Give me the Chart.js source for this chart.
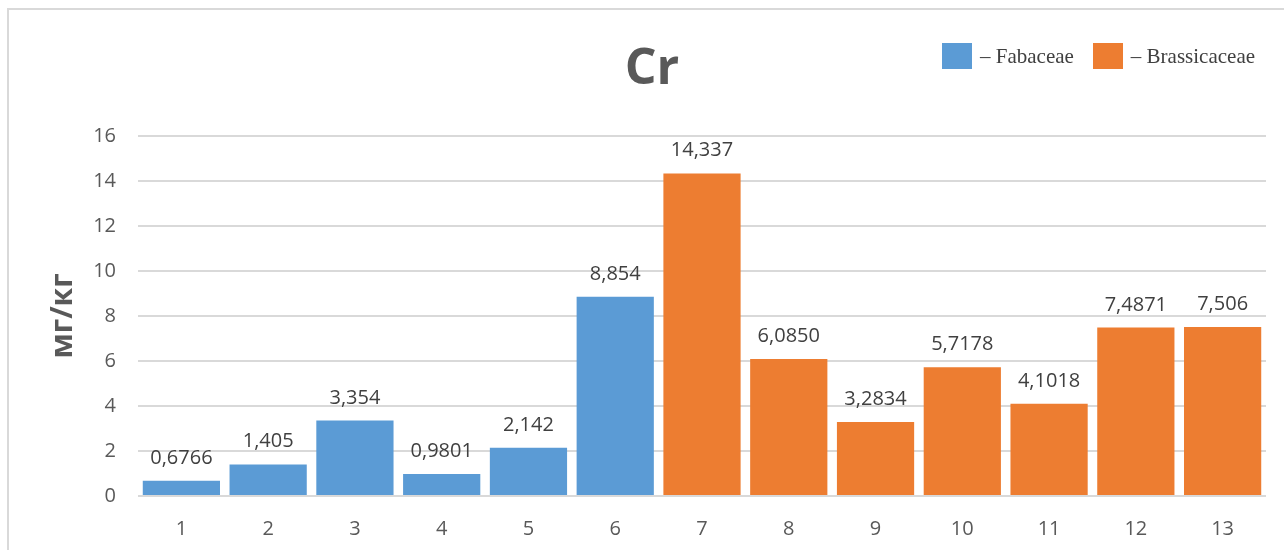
<!DOCTYPE html>
<html>
<head>
<meta charset="utf-8">
<script src="https://cdn.jsdelivr.net/npm/chart.js@4.4.1/dist/chart.umd.min.js"></script>
<style>
  html, body { margin: 0; padding: 0; background: #fff; }
  #wrap { position: relative; width: 1284px; height: 550px; overflow: hidden; }
  #frame {
    position: absolute; left: 7px; top: 8px; width: 1300px; height: 600px;
    border-left: 2px solid #d9d9d9; border-top: 2px solid #d9d9d9;
  }
  #legend {
    position: absolute; top: 43px; left: 942px;
    display: flex; align-items: center;
    font-family: "Liberation Serif", "DejaVu Serif", serif; font-size: 21px; color: #404040;
  }
  .lg-item { display: flex; align-items: center; margin-right: 19px; }
  .lg-box { width: 30px; height: 26px; margin-right: 8px; }
  canvas { position: absolute; left: 38px; top: 0; }
</style>
</head>
<body>
<div id="wrap">
  <div id="frame"></div>
  <canvas id="crChart" width="1246" height="550"></canvas>
  <div id="legend"></div>
</div>
<script>
/* ================================================================
   DATA — Cr content, mg/kg, per sample
================================================================ */
const categories   = ['1','2','3','4','5','6','7','8','9','10','11','12','13'];
const fabaceae     = [0.6766, 1.405, 3.354, 0.9801, 2.142, 8.854, null, null, null, null, null, null, null];
const brassicaceae = [null, null, null, null, null, null, 14.337, 6.085, 3.2834, 5.7178, 4.1018, 7.4871, 7.506];
// digits after the decimal comma for each sample's label
const decimals     = [4, 3, 3, 4, 3, 3, 3, 4, 4, 4, 4, 4, 3];
const yTicks       = [0, 2, 4, 6, 8, 10, 12, 14, 16];

const BLUE   = '#5b9bd5';
const ORANGE = '#ed7d31';
const GREY   = '#595959';
const FONT   = '"Open Sans", "Liberation Sans", sans-serif';

const fmt = (v, i) => v.toFixed(decimals[i]).replace('.', ',');

/* ── value labels above each bar ── */
const valueLabels = {
  id: 'valueLabels',
  afterDatasetsDraw(chart) {
    const ctx = chart.ctx;
    ctx.save();
    ctx.font = '20px ' + FONT;
    ctx.fillStyle = '#404040';
    ctx.textAlign = 'center';
    ctx.textBaseline = 'alphabetic';
    chart.data.datasets.forEach((ds, di) => {
      chart.getDatasetMeta(di).data.forEach((bar, i) => {
        const v = ds.data[i];
        if (v == null) return;
        ctx.fillText(fmt(v, i), bar.x, bar.y - 17);
      });
    });
    ctx.restore();
  }
};

const chart = new Chart(document.getElementById('crChart'), {
  type: 'bar',
  data: {
    labels: categories,
    datasets: [
      { label: '– Fabaceae',     data: fabaceae,     backgroundColor: BLUE },
      { label: '– Brassicaceae', data: brassicaceae, backgroundColor: ORANGE }
    ]
  },
  options: {
    responsive: false,
    animation: false,
    layout: { padding: { left: 0, right: 18, top: 0, bottom: 0 } },
    datasets: { bar: { grouped: false, barPercentage: 0.89, categoryPercentage: 1 } },
    plugins: {
      legend: { display: false },
      tooltip: { enabled: false },
      title: {
        display: true,
        text: 'Cr',
        color: GREY,
        font: { family: FONT, size: 50, weight: 'bold', lineHeight: 1.2 },
        padding: { top: 40, bottom: 36 }
      }
    },
    scales: {
      x: {
        grid: { display: false, drawTicks: false },
        border: { display: false },
        ticks: { color: GREY, font: { family: FONT, size: 20 }, padding: 21 },
        afterFit: s => { s.height = 54; }
      },
      y: {
        min: 0, max: 16,
        afterBuildTicks: s => { s.ticks = yTicks.map(v => ({ value: v })); },
        grid: { color: '#d9d9d9', lineWidth: 2, drawTicks: false },
        border: { display: false },
        ticks: { color: GREY, font: { family: FONT, size: 20 }, padding: 22 },
        title: {
          display: true,
          text: 'мг/кг',
          color: GREY,
          font: { family: FONT, size: 30, weight: 'bold', lineHeight: 1.2 },
          padding: { top: 7, bottom: 0 }
        },
        afterFit: s => { s.width = 100; }
      }
    }
  },
  plugins: [valueLabels]
});

/* ── legend built from the datasets ── */
document.getElementById('legend').innerHTML = chart.data.datasets.map(ds => `
  <div class="lg-item">
    <div class="lg-box" style="background:${ds.backgroundColor};"></div>
    <span>${ds.label}</span>
  </div>`).join('');
</script>
</body>
</html>
